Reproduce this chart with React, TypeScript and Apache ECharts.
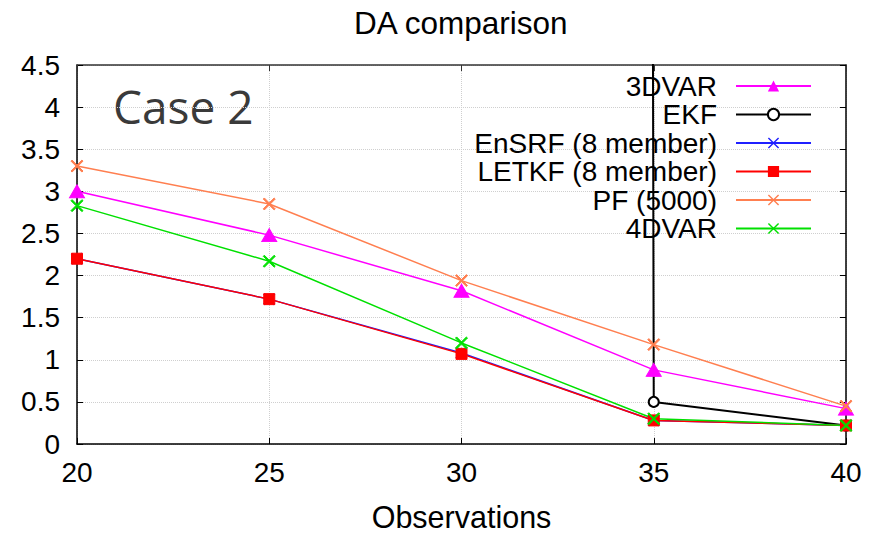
import React, { useEffect, useRef } from "react";
import * as echarts from "echarts";

const observations = [20, 25, 30, 35, 40];
const da3dvar = [3.0, 2.48, 1.82, 0.88, 0.42];
const ekf = [null, null, 1000, 0.5, 0.22];
const ensrf = [2.2, 1.72, 1.08, 0.28, 0.22];
const letkf = [2.2, 1.72, 1.07, 0.28, 0.22];
const pf = [3.3, 2.85, 1.94, 1.18, 0.45];
const da4dvar = [2.83, 2.17, 1.2, 0.3, 0.22];

const xTicks = { min: 20, max: 40, interval: 5 };
const yTicks = { min: 0, max: 4.5, interval: 0.5 };

const seriesNames = [
  "3DVAR",
  "EKF",
  "EnSRF (8 member)",
  "LETKF (8 member)",
  "PF (5000)",
  "4DVAR",
];

const t = 0.9;
const X_PATH =
  "path://M0," + t + "L" + t + ",0L5," + (5 - t) + "L" + (10 - t) + ",0L10," + t +
  "L" + (5 + t) + ",5L10," + (10 - t) + "L" + (10 - t) + ",10L5," + (5 + t) +
  "L" + t + ",10L0," + (10 - t) + "L" + (5 - t) + ",5Z";

const FONT = "Liberation Sans";

function pairs(vals: (number | null)[]) {
  return observations.map((x, i) => [x, vals[i]]);
}

export default function App() {
  const ref = useRef<HTMLDivElement>(null);
  useEffect(() => {
    if (!ref.current) return;
    const chart = echarts.init(ref.current, null, { renderer: "svg" });
    const mk = (
      name: string,
      vals: (number | null)[],
      color: string,
      symbol: string,
      size: number | number[],
      width = 1.5
    ) => ({
      name,
      type: "line",
      data: pairs(vals),
      symbol,
      symbolSize: size,
      showSymbol: true,
      clip: true,
      lineStyle: { color, width },
      itemStyle: { color, borderColor: color },
      emphasis: { disabled: true },
    });
    chart.setOption({
      animation: false,
      backgroundColor: "#ffffff",
      title: {
        text: "DA comparison",
        left: 354,
        top: 7,
        padding: 0,
        textStyle: { fontFamily: FONT, fontSize: 31.5, fontWeight: "normal", color: "#000" },
      },
      grid: { left: 77, right: 25, top: 65, bottom: 87, containLabel: false },
      legend: {
        orient: "vertical",
        align: "right",
        right: 59,
        top: 72,
        padding: 0,
        itemWidth: 75,
        itemHeight: 14,
        itemGap: 0.5,
        selectedMode: false,
        data: seriesNames,
        textStyle: { fontFamily: FONT, fontSize: 28, color: "#000", padding: [0, 14, 0, 0] },
      },
      xAxis: [
        {
          type: "value",
          ...xTicks,
          name: "Observations",
          nameLocation: "middle",
          nameGap: 57,
          nameTextStyle: { fontFamily: FONT, fontSize: 30.5, color: "#000" },
          axisLine: { show: true, onZero: false, lineStyle: { color: "#000", width: 1.5 } },
          axisTick: { show: true, inside: true, length: 6, lineStyle: { color: "#000" } },
          axisLabel: { fontFamily: FONT, fontSize: 28, color: "#000", margin: 14 },
          splitLine: { show: true, lineStyle: { color: "#cfcfcf", type: "dotted", width: 1 } },
        },
        {
          type: "value",
          ...xTicks,
          position: "top",
          axisLine: { show: true, onZero: false, lineStyle: { color: "#333", width: 1.5 } },
          axisTick: { show: true, inside: true, length: 6, lineStyle: { color: "#333" } },
          axisLabel: { show: false },
          splitLine: { show: false },
        },
      ],
      yAxis: [
        {
          type: "value",
          ...yTicks,
          axisLine: { show: true, onZero: false, lineStyle: { color: "#000", width: 1.5 } },
          axisTick: { show: true, inside: true, length: 6, lineStyle: { color: "#000" } },
          axisLabel: { fontFamily: FONT, fontSize: 28, color: "#000", margin: 17 },
          splitLine: { show: true, lineStyle: { color: "#cfcfcf", type: "dotted", width: 1 } },
        },
        {
          type: "value",
          ...yTicks,
          position: "right",
          axisLine: { show: true, onZero: false, lineStyle: { color: "#000", width: 1.5 } },
          axisTick: { show: true, inside: true, length: 6, lineStyle: { color: "#000" } },
          axisLabel: { show: false },
          splitLine: { show: false },
        },
      ],
      graphic: [
        {
          type: "text",
          left: 113,
          top: 83,
          style: {
            text: "Case 2",
            fontFamily: "Open Sans",
            fontSize: 46,
            fill: "#3a3a3a",
          },
        },
      ],
      series: [
        mk(seriesNames[0], da3dvar, "#ff00ff", "triangle", [15, 13]),
        mk(seriesNames[1], ekf, "#000000", "emptyCircle", 10, 2),
        mk(seriesNames[2], ensrf, "#2020ff", X_PATH, 11),
        mk(seriesNames[3], letkf, "#ff0000", "rect", 11),
        mk(seriesNames[4], pf, "#ff7f50", X_PATH, 12),
        mk(seriesNames[5], da4dvar, "#00e000", X_PATH, 12),
      ],
    });
    return () => chart.dispose();
  }, []);
  return (
    <div
      ref={ref}
      style={{ position: "fixed", left: 0, top: 0, width: 871, height: 537 }}
    />
  );
}
